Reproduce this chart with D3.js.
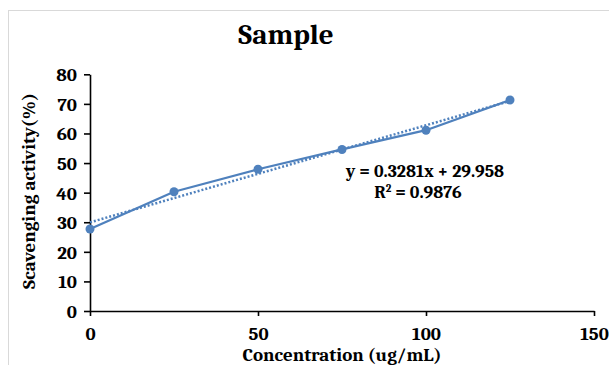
<!DOCTYPE html>
<html>
<head>
<meta charset="utf-8">
<script src="https://cdn.jsdelivr.net/npm/d3@7"></script>
<style>
  body { margin: 0; background: #fff; }
  text { font-family: Cambria, 'Liberation Serif', 'DejaVu Serif', serif; font-weight: bold; fill: #000; }
</style>
</head>
<body>
<div id="chart"></div>
<script>
// data
const concentrations = [0, 25, 50, 75, 100, 125];
const scavenging = [27.7, 40.3, 47.9, 54.6, 61.1, 71.3];
const xTicks = [0, 50, 100, 150];
const yTicks = [0, 10, 20, 30, 40, 50, 60, 70, 80];
const trendSlope = 0.3281;
const trendIntercept = 29.958;
const equationText = 'y = 0.3281x + 29.958';
const r2Text = '0.9876';

const width = 609, height = 365;
const blue = '#4f81bd';

const svg = d3.select('#chart').append('svg')
    .attr('width', width)
    .attr('height', height);

// chart area frame
svg.append('rect')
    .attr('x', 8.5).attr('y', 10.5)
    .attr('width', 700).attr('height', 400)
    .attr('fill', '#fff')
    .attr('stroke', '#d9d9d9')
    .attr('stroke-width', 1);

const x = d3.scaleLinear().domain([0, 150]).range([90, 594]);
const y = d3.scaleLinear().domain([0, 80]).range([311, 74.3]);

// axes
const yAxis = svg.append('g')
    .attr('transform', 'translate(90,0)')
    .call(d3.axisLeft(y).tickValues(yTicks).tickSize(6).tickSizeOuter(0).tickPadding(7));
yAxis.selectAll('text').style('font-size', '19px').attr('dy', '0.34em');

const xAxis = svg.append('g')
    .attr('transform', 'translate(0,311)')
    .call(d3.axisBottom(x).tickValues(xTicks).tickSize(5).tickSizeOuter(0));
xAxis.selectAll('text').style('font-size', '19px').attr('y', 29).attr('dy', 0);

svg.selectAll('.domain, .tick line')
    .attr('stroke', '#000')
    .attr('stroke-width', 1.6);

// trendline
svg.append('path')
    .datum(d3.extent(concentrations))
    .attr('fill', 'none')
    .attr('stroke', blue)
    .attr('stroke-width', 2.5)
    .attr('stroke-dasharray', '2,2')
    .attr('d', d3.line()
        .x(d => x(d))
        .y(d => y(trendIntercept + trendSlope * d)));

// series
const points = concentrations.map((c, i) => ({ c: c, v: scavenging[i] }));

svg.append('path')
    .datum(points)
    .attr('fill', 'none')
    .attr('stroke', blue)
    .attr('stroke-width', 2.25)
    .attr('stroke-linejoin', 'round')
    .attr('d', d3.line().x(d => x(d.c)).y(d => y(d.v)));

svg.selectAll('circle.pt')
    .data(points)
    .enter().append('circle')
    .attr('class', 'pt')
    .attr('cx', d => x(d.c))
    .attr('cy', d => y(d.v))
    .attr('r', 4.5)
    .attr('fill', blue);

// title
svg.append('text')
    .attr('x', 286).attr('y', 44)
    .attr('text-anchor', 'middle')
    .style('font-size', '29px')
    .text('Sample');

// axis titles
svg.append('text')
    .attr('x', 342).attr('y', 361)
    .attr('text-anchor', 'middle')
    .style('font-size', '19px')
    .text('Concentration (ug/mL)');

svg.append('text')
    .attr('transform', 'translate(35,191) rotate(-90)')
    .attr('text-anchor', 'middle')
    .style('font-size', '19px')
    .text('Scavenging  activity(%)');

// trendline equation
svg.append('text')
    .attr('x', 425).attr('y', 177)
    .attr('text-anchor', 'middle')
    .style('font-size', '18px')
    .text(equationText);

const r2 = svg.append('text')
    .attr('x', 418).attr('y', 198)
    .attr('text-anchor', 'middle')
    .style('font-size', '18px');
r2.append('tspan').text('R');
r2.append('tspan').attr('dy', -6).style('font-size', '11px').text('2');
r2.append('tspan').attr('dy', 6).text(' = ' + r2Text);
</script>
</body>
</html>
